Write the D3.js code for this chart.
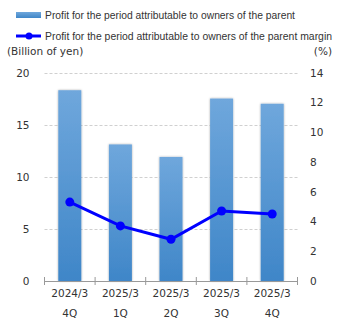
<!DOCTYPE html>
<html>
<head>
<meta charset="utf-8">
<script src="https://cdn.jsdelivr.net/npm/d3@7"></script>
<style>
  body { margin: 0; background: #fff; }
  svg text { font-family: "DejaVu Sans", Verdana, sans-serif; fill: #333; }
</style>
</head>
<body>
<div id="chart"></div>
<script>
var periods = ["2024/3", "2025/3", "2025/3", "2025/3", "2025/3"];
var quarters = ["4Q", "1Q", "2Q", "3Q", "4Q"];
var profit = [18.3, 13.1, 11.9, 17.5, 17.0];   // billion of yen
var margin = [5.3, 3.7, 2.8, 4.7, 4.5];        // %
var leftTicks = [0, 5, 10, 15, 20];
var rightTicks = [0, 2, 4, 6, 8, 10, 12, 14];
var barName = "Profit for the period attributable to owners of the parent";
var lineName = "Profit for the period attributable to owners of the parent margin";

var w = 345, h = 330;
var plot = { left: 44.5, right: 297.5, top: 72.5, bottom: 281 };

var svg = d3.select("#chart").append("svg")
  .attr("width", w).attr("height", h);

var defs = svg.append("defs");
var grad = defs.append("linearGradient")
  .attr("id", "barGrad")
  .attr("x1", 0).attr("y1", 0).attr("x2", 0).attr("y2", 1);
grad.append("stop").attr("offset", "0%").attr("stop-color", "#6fa7dc");
grad.append("stop").attr("offset", "100%").attr("stop-color", "#3f86c8");

var shadow = defs.append("filter").attr("id", "barShadow")
  .attr("x", "-30%").attr("y", "-5%").attr("width", "160%").attr("height", "110%");
shadow.append("feGaussianBlur").attr("in", "SourceAlpha").attr("stdDeviation", 1.2).attr("result", "b");
shadow.append("feComponentTransfer").attr("in", "b").attr("result", "s")
  .append("feFuncA").attr("type", "linear").attr("slope", 0.35);
var merge = shadow.append("feMerge");
merge.append("feMergeNode").attr("in", "s");
merge.append("feMergeNode").attr("in", "SourceGraphic");

var x = d3.scaleBand().domain(d3.range(profit.length))
  .range([plot.left, plot.right]).paddingInner(0).paddingOuter(0);
var yL = d3.scaleLinear().domain([0, 20]).range([plot.bottom, plot.top]);
var yR = d3.scaleLinear().domain([0, 14]).range([plot.bottom, plot.top]);
var barW = 23;

// gridlines
svg.append("g").selectAll("line")
  .data(leftTicks.filter(d => d > 0))
  .enter().append("line")
  .attr("x1", plot.left).attr("x2", plot.right)
  .attr("y1", d => Math.round(yL(d)) + 0.5).attr("y2", d => Math.round(yL(d)) + 0.5)
  .attr("stroke", "#d0d0d0").attr("stroke-dasharray", "3,2");

// left axis labels
svg.append("g").selectAll("text")
  .data(leftTicks).enter().append("text")
  .attr("x", 29.5).attr("y", d => yL(d) + 4)
  .attr("text-anchor", "end").attr("font-size", 10.5)
  .text(d => d);

// right axis labels
svg.append("g").selectAll("text")
  .data(rightTicks).enter().append("text")
  .attr("x", 310).attr("y", d => yR(d) + 4)
  .attr("font-size", 10.5)
  .text(d => d);

// bars
svg.append("g").selectAll("rect")
  .data(profit).enter().append("rect")
  .attr("x", (d, i) => x(i) + x.bandwidth() / 2 - barW / 2)
  .attr("width", barW)
  .attr("y", d => yL(d))
  .attr("height", d => yL(0) - yL(d))
  .attr("fill", "url(#barGrad)")
  .attr("filter", "url(#barShadow)");

// bottom axis
svg.append("g")
  .attr("transform", `translate(0, ${plot.bottom})`)
  .call(d3.axisBottom(x).tickSize(0).tickFormat(""))
  .call(g => g.select(".domain").attr("stroke", "#999"));
svg.append("g").selectAll("line")
  .data(d3.range(profit.length + 1)).enter().append("line")
  .attr("x1", i => i < profit.length ? x(i) : plot.right)
  .attr("x2", i => i < profit.length ? x(i) : plot.right)
  .attr("y1", plot.bottom - 4).attr("y2", plot.bottom + 4)
  .attr("stroke", "#999");

svg.append("g").selectAll("text")
  .data(periods).enter().append("text")
  .attr("x", (d, i) => x(i) + x.bandwidth() / 2).attr("y", 297)
  .attr("text-anchor", "middle").attr("font-size", 10.5)
  .text(d => d);
svg.append("g").selectAll("text")
  .data(quarters).enter().append("text")
  .attr("x", (d, i) => x(i) + x.bandwidth() / 2).attr("y", 317)
  .attr("text-anchor", "middle").attr("font-size", 10.5)
  .text(d => d);

// margin line
var line = d3.line()
  .x((d, i) => x(i) + x.bandwidth() / 2)
  .y(d => yR(d));
svg.append("path").datum(margin)
  .attr("d", line).attr("fill", "none")
  .attr("stroke", "#0000ff").attr("stroke-width", 3);
svg.append("g").selectAll("circle")
  .data(margin).enter().append("circle")
  .attr("cx", (d, i) => x(i) + x.bandwidth() / 2)
  .attr("cy", d => yR(d)).attr("r", 4.5)
  .attr("fill", "#0000ff");

// axis titles
svg.append("text").attr("x", 7).attr("y", 55).attr("font-size", 10.5)
  .text("(Billion of yen)");
svg.append("text").attr("x", 332).attr("y", 55).attr("font-size", 10.5)
  .attr("text-anchor", "end").text("(%)");

// legend
var legendFont = "'Liberation Sans Narrow', 'Liberation Sans', sans-serif";
svg.append("rect").attr("x", 16).attr("y", 12).attr("width", 25).attr("height", 6)
  .attr("fill", "url(#barGrad)");
svg.append("text").attr("x", 45).attr("y", 19)
  .attr("font-size", 10).style("font-family", legendFont)
  .attr("textLength", 250).attr("lengthAdjust", "spacingAndGlyphs")
  .text(barName);
svg.append("line").attr("x1", 16).attr("x2", 41).attr("y1", 36).attr("y2", 36)
  .attr("stroke", "#0000ff").attr("stroke-width", 3);
svg.append("circle").attr("cx", 29).attr("cy", 36).attr("r", 3.5).attr("fill", "#0000ff");
svg.append("text").attr("x", 45).attr("y", 40)
  .attr("font-size", 10).style("font-family", legendFont)
  .attr("textLength", 287).attr("lengthAdjust", "spacingAndGlyphs")
  .text(lineName);
</script>
</body>
</html>
